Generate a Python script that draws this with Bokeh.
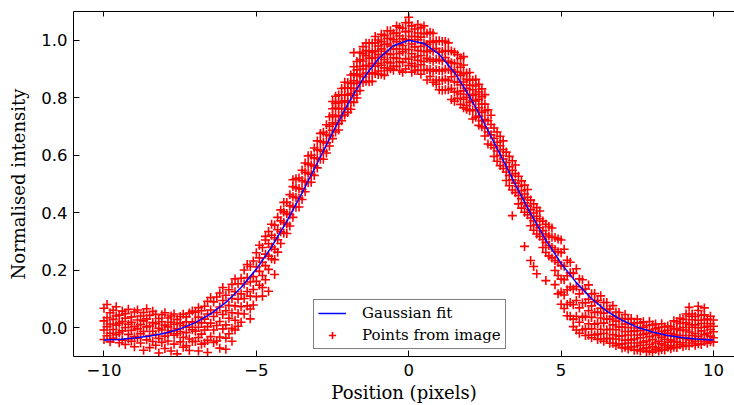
from bokeh.plotting import figure
from bokeh.models import (Range1d, LinearAxis, FixedTicker, NumeralTickFormatter,
                          CustomJSTickFormatter, Legend, LegendItem, ColumnDataSource)
from bokeh.embed import file_html
from bokeh.resources import INLINE

# ---------------- data ----------------
x_ticks = [-10, -5, 0, 5, 10]
y_ticks = [0.0, 0.2, 0.4, 0.6, 0.8, 1.0]

# Gaussian fit curve
fit_x = [-10.0, -9.5, -9.0, -8.5, -8.0, -7.5, -7.0, -6.5, -6.0, -5.5, -5.0, -4.5, -4.0, -3.5,
         -3.0, -2.5, -2.0, -1.5, -1.0, -0.5, 0.0, 0.5, 1.0, 1.5, 2.0, 2.5, 3.0, 3.5, 4.0, 4.5,
         5.0, 5.5, 6.0, 6.5, 7.0, 7.5, 8.0, 8.5, 9.0, 9.5, 10.0]
fit_y = [-0.043, -0.041, -0.036, -0.029, -0.019, -0.004, 0.018, 0.048, 0.088, 0.140, 0.204,
         0.281, 0.370, 0.469, 0.573, 0.678, 0.778, 0.866, 0.935, 0.981, 1.000, 0.989, 0.951,
         0.888, 0.804, 0.707, 0.603, 0.498, 0.397, 0.305, 0.224, 0.157, 0.101, 0.058, 0.026,
         0.002, -0.015, -0.027, -0.035, -0.040, -0.043]

# Points from image: one list of y values per x column
left_tail_x = [-10.0, -9.9, -9.8, -9.7, -9.6, -9.5, -9.4, -9.3, -9.2, -9.1, -9.0, -8.9, -8.8,
               -8.7, -8.6, -8.5, -8.4, -8.3, -8.2, -8.1, -8.0, -7.9, -7.8, -7.7, -7.6, -7.5,
               -7.4, -7.3, -7.2, -7.1]
left_tail_y = [
    [0.068, 0.024, -0.008, -0.041], [0.081, 0.035, 0.004, -0.028], [0.052, 0.013, -0.019, -0.049],
    [0.061, 0.029, -0.006, -0.037], [0.073, 0.041, 0.009, -0.024], [0.044, 0.016, -0.017, -0.052],
    [0.058, 0.022, -0.011, -0.043], [0.049, 0.033, 0.001, -0.058], [0.064, 0.012, -0.023, -0.039],
    [0.038, 0.019, -0.009, -0.047], [0.055, 0.004, -0.031, -0.066], [0.062, 0.027, -0.004, -0.036],
    [0.041, 0.011, -0.021, -0.053], [0.053, 0.024, -0.013, -0.078], [0.066, 0.031, 0.003, -0.042],
    [0.043, 0.006, -0.027, -0.069], [0.057, 0.018, -0.012, -0.048], [0.047, 0.014, -0.024, -0.061],
    [0.032, -0.002, -0.037, -0.088], [0.045, 0.021, -0.008, -0.051], [0.052, 0.009, -0.029, -0.072],
    [0.034, 0.003, -0.018, -0.046], [0.041, 0.019, -0.011, -0.081], [0.048, 0.012, -0.026, -0.057],
    [0.029, -0.004, -0.021, -0.091], [0.039, 0.016, -0.013, -0.049], [0.047, 0.008, -0.033, -0.068],
    [0.038, 0.021, -0.017, -0.062], [0.051, 0.002, -0.039, -0.079], [0.058, 0.019, -0.007, -0.048],
]

left_flank_x = [-7.0, -6.9, -6.8, -6.7, -6.6, -6.5, -6.4, -6.3, -6.2, -6.1, -6.0, -5.9, -5.8,
                -5.7, -5.6, -5.5, -5.4, -5.3, -5.2, -5.1, -5.0, -4.9, -4.8, -4.7, -4.6, -4.5,
                -4.4, -4.3, -4.2, -4.1, -4.0, -3.9, -3.8, -3.7, -3.6, -3.5, -3.4, -3.3, -3.2,
                -3.1, -3.0, -2.9, -2.8, -2.7, -2.6]
left_flank_y = [
    [0.054, 0.021, -0.012, -0.048], [0.070, 0.037, 0.002, -0.034, -0.081],
    [0.059, 0.017, -0.022, -0.057], [0.075, 0.030, -0.008, -0.053],
    [0.092, 0.048, 0.004, -0.044, -0.086], [0.105, 0.062, 0.016, -0.031],
    [0.090, 0.039, -0.008, -0.051], [0.107, 0.053, 0.008, -0.046],
    [0.121, 0.072, 0.022, -0.032, -0.071], [0.140, 0.095, 0.046, -0.004],
    [0.113, 0.059, 0.010, -0.036, -0.075], [0.132, 0.078, 0.033, -0.021],
    [0.151, 0.102, 0.052, -0.002, -0.047], [0.170, 0.125, 0.076, 0.026, -0.008],
    [0.153, 0.099, 0.050, 0.005], [0.172, 0.118, 0.073, 0.019],
    [0.201, 0.152, 0.102, 0.048], [0.220, 0.175, 0.126, 0.076],
    [0.213, 0.159, 0.110, 0.065, 0.031], [0.232, 0.178, 0.133, 0.079],
    [0.261, 0.212, 0.162, 0.108], [0.287, 0.243, 0.196, 0.148],
    [0.279, 0.228, 0.182, 0.140, 0.110], [0.318, 0.305, 0.256, 0.216, 0.167],
    [0.335, 0.292, 0.249, 0.203, 0.127], [0.360, 0.322, 0.281, 0.240],
    [0.357, 0.313, 0.273, 0.237, 0.185], [0.384, 0.341, 0.306, 0.263],
    [0.410, 0.372, 0.334, 0.293], [0.436, 0.403, 0.366, 0.329],
    [0.436, 0.397, 0.361, 0.328], [0.463, 0.425, 0.393, 0.354],
    [0.515, 0.491, 0.456, 0.421, 0.384], [0.518, 0.487, 0.453, 0.419],
    [0.521, 0.484, 0.451, 0.420], [0.548, 0.512, 0.482, 0.446],
    [0.573, 0.541, 0.508, 0.473], [0.598, 0.569, 0.537, 0.505],
    [0.600, 0.566, 0.534, 0.506], [0.625, 0.591, 0.563, 0.530],
    [0.650, 0.619, 0.589, 0.556], [0.676, 0.648, 0.617, 0.586],
    [0.680, 0.646, 0.614, 0.586], [0.706, 0.672, 0.643, 0.608],
    [0.734, 0.701, 0.668, 0.632],
]

peak_x = [-2.5, -2.4, -2.3, -2.2, -2.1, -2.0, -1.9, -1.8, -1.7, -1.6, -1.5, -1.4, -1.3, -1.2,
          -1.1, -1.0, -0.9, -0.8, -0.7, -0.6, -0.5, -0.4, -0.3, -0.2, -0.1, 0.0, 0.1, 0.2,
          0.3, 0.4, 0.5, 0.6, 0.7, 0.8, 0.9, 1.0, 1.1, 1.2, 1.3, 1.4, 1.5, 1.6, 1.7, 1.8,
          1.9, 2.0, 2.1, 2.2, 2.3, 2.4, 2.5]
peak_y = [
    [0.787, 0.762, 0.740, 0.713, 0.687, 0.658], [0.805, 0.781, 0.764, 0.734, 0.708, 0.681],
    [0.810, 0.782, 0.762, 0.736, 0.711, 0.688], [0.832, 0.809, 0.787, 0.762, 0.738, 0.720],
    [0.854, 0.834, 0.810, 0.789, 0.763, 0.740], [0.853, 0.835, 0.809, 0.784, 0.760, 0.749],
    [0.879, 0.850, 0.832, 0.815, 0.786, 0.760], [0.957, 0.908, 0.883, 0.859, 0.833, 0.809, 0.784],
    [0.926, 0.897, 0.877, 0.850, 0.823, 0.799], [0.958, 0.933, 0.909, 0.882, 0.855, 0.825],
    [0.978, 0.953, 0.928, 0.900, 0.873, 0.853], [0.990, 0.964, 0.946, 0.913, 0.886, 0.857],
    [0.990, 0.963, 0.937, 0.909, 0.883, 0.856], [0.990, 0.958, 0.938, 0.919, 0.887, 0.857],
    [1.013, 0.991, 0.963, 0.940, 0.910, 0.884], [1.001, 0.980, 0.950, 0.920, 0.893, 0.881],
    [1.021, 0.995, 0.970, 0.941, 0.913, 0.882], [1.016, 0.985, 0.962, 0.933, 0.904, 0.878],
    [1.033, 1.006, 0.987, 0.953, 0.924, 0.895], [1.033, 1.006, 0.980, 0.951, 0.921, 0.901],
    [1.024, 1.002, 0.970, 0.939, 0.909, 0.896], [1.050, 1.025, 0.995, 0.970, 0.937, 0.909],
    [1.045, 1.015, 0.985, 0.954, 0.925, 0.895], [1.042, 1.005, 0.982, 0.960, 0.923, 0.889],
    [1.061, 1.030, 1.002, 0.968, 0.936, 0.900], [1.080, 1.062, 1.031, 1.002, 0.968, 0.935, 0.912],
    [1.050, 1.013, 0.987, 0.953, 0.919, 0.889], [1.039, 1.013, 0.977, 0.942, 0.909, 0.895],
    [1.055, 1.025, 1.002, 0.964, 0.930, 0.896], [1.043, 1.011, 0.979, 0.946, 0.915, 0.882],
    [1.050, 1.023, 0.990, 0.962, 0.926, 0.895], [1.024, 0.985, 0.960, 0.937, 0.898, 0.862],
    [1.028, 0.996, 0.966, 0.932, 0.898, 0.874], [1.024, 0.992, 0.962, 0.927, 0.892, 0.854],
    [0.998, 0.971, 0.934, 0.897, 0.862, 0.847], [0.998, 0.959, 0.931, 0.895, 0.860, 0.828],
    [0.996, 0.961, 0.928, 0.893, 0.860, 0.826], [0.996, 0.964, 0.940, 0.899, 0.864, 0.828],
    [0.991, 0.963, 0.927, 0.898, 0.860, 0.828], [0.963, 0.922, 0.897, 0.873, 0.832, 0.794],
    [0.958, 0.919, 0.891, 0.855, 0.820, 0.788], [0.950, 0.919, 0.889, 0.855, 0.822, 0.798],
    [0.937, 0.906, 0.878, 0.845, 0.813, 0.777], [0.943, 0.914, 0.884, 0.855, 0.824, 0.795, 0.765],
    [0.886, 0.864, 0.833, 0.802, 0.773, 0.760], [0.888, 0.862, 0.844, 0.811, 0.784, 0.755],
    [0.861, 0.828, 0.808, 0.789, 0.756, 0.726], [0.864, 0.841, 0.812, 0.789, 0.758, 0.732],
    [0.847, 0.820, 0.795, 0.765, 0.736, 0.704], [0.831, 0.804, 0.778, 0.749, 0.720, 0.699],
    [0.811, 0.778, 0.755, 0.724, 0.695, 0.667],
]

right_flank_x = [2.6, 2.7, 2.8, 2.9, 3.0, 3.1, 3.2, 3.3, 3.4, 3.5, 3.6, 3.7, 3.8, 3.9, 4.0,
                 4.1, 4.2, 4.3, 4.4, 4.5, 4.6, 4.7, 4.8, 4.9, 5.0]
right_flank_y = [
    [0.758, 0.720, 0.681, 0.639], [0.739, 0.707, 0.671, 0.635], [0.695, 0.659, 0.626, 0.596],
    [0.681, 0.645, 0.615, 0.579], [0.666, 0.633, 0.600, 0.564], [0.650, 0.620, 0.587, 0.554],
    [0.611, 0.575, 0.542, 0.512], [0.596, 0.560, 0.530, 0.494], [0.581, 0.548, 0.515, 0.479, 0.390],
    [0.566, 0.536, 0.503, 0.470], [0.527, 0.492, 0.460, 0.431], [0.511, 0.477, 0.449, 0.416],
    [0.496, 0.465, 0.435, 0.402, 0.283], [0.481, 0.454, 0.423, 0.393],
    [0.444, 0.411, 0.382, 0.355, 0.234], [0.431, 0.399, 0.372, 0.339, 0.213],
    [0.418, 0.388, 0.358, 0.326, 0.188], [0.406, 0.379, 0.348, 0.318],
    [0.371, 0.338, 0.307, 0.279], [0.360, 0.326, 0.297, 0.262, 0.164],
    [0.352, 0.319, 0.286, 0.250], [0.347, 0.315, 0.279, 0.243],
    [0.314, 0.272, 0.234, 0.199, 0.150], [0.309, 0.264, 0.227, 0.182, 0.118],
    [0.305, 0.261, 0.217, 0.169, 0.124, 0.082],
]

right_tail_x = [5.1, 5.2, 5.3, 5.4, 5.5, 5.6, 5.7, 5.8, 5.9, 6.0, 6.1, 6.2, 6.3, 6.4, 6.5,
                6.6, 6.7, 6.8, 6.9, 7.0, 7.1, 7.2, 7.3, 7.4, 7.5, 7.6, 7.7, 7.8, 7.9, 8.0,
                8.1, 8.2, 8.3, 8.4, 8.5, 8.6, 8.7, 8.8, 8.9, 9.0, 9.1, 9.2, 9.3, 9.4, 9.5,
                9.6, 9.7, 9.8, 9.9, 10.0]
right_tail_y = [
    [0.273, 0.214, 0.167, 0.114, 0.067], [0.235, 0.181, 0.132, 0.081, 0.042],
    [0.228, 0.191, 0.142, 0.088, 0.040], [0.189, 0.135, 0.080, 0.030, 0.004],
    [0.205, 0.143, 0.095, 0.040, -0.008], [0.170, 0.118, 0.069, 0.019, -0.019],
    [0.167, 0.133, 0.087, 0.037, -0.007], [0.135, 0.087, 0.040, -0.004, -0.027],
    [0.149, 0.099, 0.059, 0.014, -0.026], [0.118, 0.076, 0.036, -0.004, -0.035],
    [0.119, 0.091, 0.053, 0.012, -0.025], [0.095, 0.055, 0.015, -0.022, -0.041],
    [0.111, 0.068, 0.034, -0.005, -0.039], [0.088, 0.051, 0.016, -0.020, -0.047],
    [0.088, 0.063, 0.030, -0.007, -0.038], [0.065, 0.030, -0.005, -0.037, -0.054],
    [0.077, 0.039, 0.010, -0.024, -0.054], [0.055, 0.023, -0.007, -0.039, -0.062],
    [0.053, 0.032, 0.003, -0.029, -0.056], [0.032, 0.002, -0.028, -0.056, -0.070],
    [0.046, 0.013, -0.013, -0.043, -0.068], [0.030, 0.001, -0.025, -0.053, -0.074],
    [0.032, 0.013, -0.013, -0.042, -0.067], [0.017, -0.011, -0.039, -0.065, -0.078],
    [0.030, -0.001, -0.025, -0.053, -0.077], [0.017, -0.010, -0.035, -0.061, -0.081],
    [0.021, 0.002, -0.023, -0.050, -0.073], [0.008, -0.019, -0.046, -0.070, -0.083],
    [0.022, -0.008, -0.031, -0.058, -0.081], [0.010, -0.017, -0.041, -0.066, -0.085],
    [0.013, -0.004, -0.027, -0.053, -0.075], [0.001, -0.023, -0.047, -0.069, -0.081],
    [0.014, -0.012, -0.033, -0.056, -0.076], [0.003, -0.019, -0.040, -0.061, -0.077],
    [0.006, -0.009, -0.028, -0.050, -0.068], [0.004, -0.019, -0.042, -0.062, -0.073],
    [0.024, -0.003, -0.024, -0.047, -0.068], [0.021, -0.004, -0.027, -0.051, -0.069],
    [0.033, 0.015, -0.009, -0.036, -0.059], [0.029, 0.001, -0.027, -0.052, -0.065],
    [0.048, 0.017, -0.008, -0.036, -0.061], [0.071, 0.040, 0.011, -0.015, -0.042, -0.063],
    [0.048, 0.028, 0.002, -0.027, -0.053], [0.039, 0.010, -0.020, -0.047, -0.061],
    [0.075, 0.060, 0.026, 0.000, -0.030, -0.056], [0.044, 0.015, -0.011, -0.038, -0.058],
    [0.069, 0.045, 0.027, 0.002, -0.024, -0.048], [0.030, 0.005, -0.019, -0.042, -0.054],
    [0.040, 0.014, -0.006, -0.029, -0.049], [0.027, 0.005, -0.014, -0.035, -0.050],
]

# ---------------- build point table ----------------
pts_x, pts_y = [], []
for xs, ys in [(left_tail_x, left_tail_y), (left_flank_x, left_flank_y), (peak_x, peak_y),
               (right_flank_x, right_flank_y), (right_tail_x, right_tail_y)]:
    for xv, col in zip(xs, ys):
        for yv in col:
            pts_x.append(xv)
            pts_y.append(yv)

# ---------------- figure ----------------
p = figure(width=734, height=405, x_range=Range1d(-11, 10.69), y_range=Range1d(-0.1, 1.1),
           output_backend="svg", toolbar_location=None,
           min_border_left=73, min_border_right=0, min_border_top=11, min_border_bottom=48)
p.outline_line_color = None
p.xgrid.visible = False
p.ygrid.visible = False
p.background_fill_color = "white"
p.border_fill_color = "white"

sc = p.scatter(x="x", y="y", source=ColumnDataSource(dict(x=pts_x, y=pts_y)),
               marker="cross", size=9, line_color="#ff0000", line_width=1.6)
ln = p.line(fit_x, fit_y, line_color="#0000ff", line_width=1.5)


def style_axis(ax):
    ax.axis_line_color = "black"
    ax.axis_line_width = 1
    ax.major_tick_line_color = "black"
    ax.major_tick_in = 6
    ax.major_tick_out = 0
    ax.minor_tick_line_color = None
    ax.major_label_text_font = "DejaVu Sans"
    ax.major_label_text_font_size = "16.5px"
    ax.major_label_text_color = "black"
    ax.axis_label_text_font = "DejaVu Serif"
    ax.axis_label_text_font_size = "18px"
    ax.axis_label_text_font_style = "normal"
    ax.axis_label_text_color = "black"


xa = p.xaxis[0]
style_axis(xa)
xa.ticker = FixedTicker(ticks=x_ticks)
xa.formatter = CustomJSTickFormatter(code="return tick < 0 ? '\u2212' + Math.abs(tick) : String(tick);")
xa.axis_label = "Position (pixels)"
xa.major_label_standoff = 7
xa.axis_label_standoff = 3

ya = p.yaxis[0]
style_axis(ya)
ya.ticker = FixedTicker(ticks=y_ticks)
ya.formatter = NumeralTickFormatter(format="0.0")
ya.axis_label = "Normalised intensity"
ya.major_label_standoff = 6
ya.axis_label_standoff = 9

# top spine with inward ticks, no labels
top = LinearAxis(ticker=FixedTicker(ticks=x_ticks))
style_axis(top)
top.major_tick_in = 5
top.major_label_text_font_size = "1px"
top.major_label_text_color = None
top.major_label_standoff = 0
p.add_layout(top, "above")

legend = Legend(items=[LegendItem(label="Gaussian fit", renderers=[ln]),
                       LegendItem(label="Points from image", renderers=[sc])],
                location=(240, 7))
legend.border_line_color = "black"
legend.border_line_width = 1
legend.background_fill_color = "white"
legend.background_fill_alpha = 1
legend.label_text_font = "DejaVu Serif"
legend.label_text_font_size = "15px"
legend.label_text_color = "black"
legend.glyph_width = 28
legend.glyph_height = 18
legend.label_height = 18
legend.label_standoff = 16
legend.spacing = 4
legend.padding = 4
legend.margin = 0
p.add_layout(legend)

open("out.html", "w").write(file_html(p, INLINE))
